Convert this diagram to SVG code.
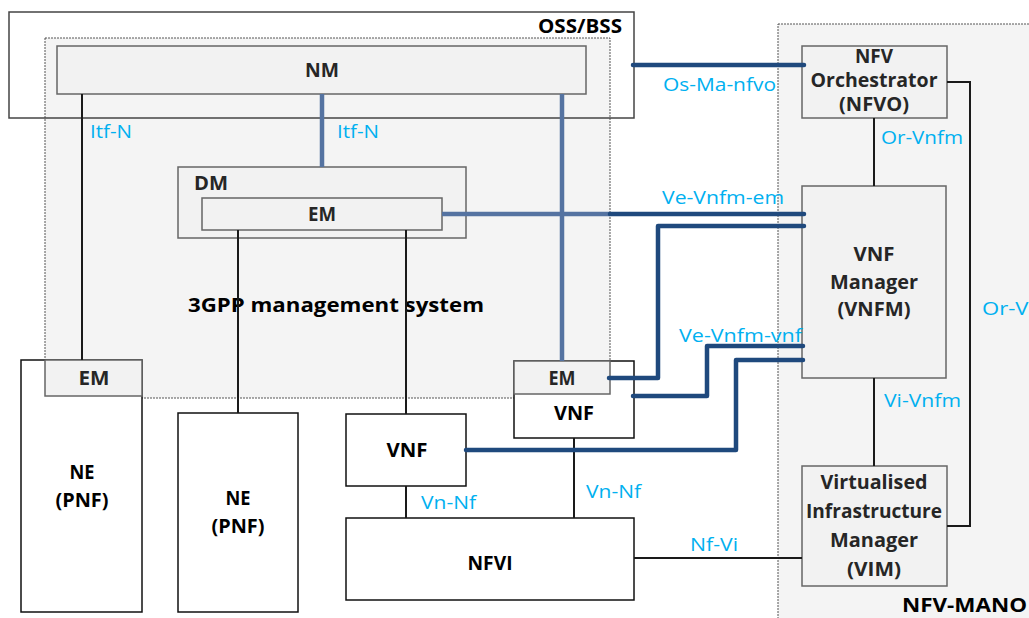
<svg xmlns="http://www.w3.org/2000/svg" width="1029" height="618" viewBox="0 0 1029 618">
<style>
.cont{fill:#f4f4f4;stroke:#555;stroke-width:1;stroke-dasharray:2 1}
.gbox{fill:#f2f2f2;stroke:#666;stroke-width:1.5}
.wbox{fill:#fff;stroke:#111;stroke-width:1.5}
.thin{fill:none;stroke:#1a1a1a;stroke-width:2}
.thk{fill:none;stroke:#1f497d;stroke-width:4.5;stroke-linecap:round;stroke-linejoin:round}
.thkl{fill:none;stroke:#5573a1;stroke-width:4.5;stroke-linecap:butt}
.b{font-family:"Open Sans","Liberation Sans",sans-serif;font-weight:bold;font-size:19px;fill:#262626}
.bk{fill:#000}
.c{font-family:"Open Sans","Liberation Sans",sans-serif;font-size:19px;fill:#00b0f0}
.m{text-anchor:middle}
</style>
<g id="containers">
<rect id="nfv-mano" class="cont" x="778" y="24" width="260" height="600"/>
<rect id="mgmt-system" class="cont" x="45" y="38" width="565" height="360"/>
<rect id="oss-bss" x="9" y="12" width="625" height="106" fill="none" stroke="#444" stroke-width="1.5"/>
<text class="b bk" x="538" y="33" textLength="84" lengthAdjust="spacingAndGlyphs" font-size="18">OSS/BSS</text>
<text class="b bk" x="188" y="312" textLength="296" lengthAdjust="spacingAndGlyphs" font-size="21">3GPP management system</text>
<text class="b bk" x="902" y="612" textLength="125" lengthAdjust="spacingAndGlyphs" font-size="21">NFV-MANO</text>
</g>
<g id="nm">
<rect class="gbox" x="57" y="46" width="529" height="48"/>
<text class="b m" x="322" y="77" textLength="34" lengthAdjust="spacingAndGlyphs">NM</text>
</g>
<g id="dm">
<rect class="gbox" x="178" y="167" width="288" height="71"/>
<text class="b" x="194" y="190" textLength="34" lengthAdjust="spacingAndGlyphs" font-size="18">DM</text>
</g>
<g id="dm-em">
<rect class="gbox" x="202" y="198" width="240" height="32"/>
<text class="b m" x="322" y="221" textLength="28" lengthAdjust="spacingAndGlyphs" font-size="17">EM</text>
</g>
<g id="ne1">
<rect class="wbox" x="21" y="360" width="121" height="252"/>
<text class="b bk m" x="82" y="479" textLength="25" lengthAdjust="spacingAndGlyphs">NE</text>
<text class="b bk m" x="82" y="507" textLength="53" lengthAdjust="spacingAndGlyphs">(PNF)</text>
</g>
<g id="ne1-em">
<rect class="gbox" x="45" y="360" width="97" height="36"/>
<text class="b m" x="94" y="385" textLength="31" lengthAdjust="spacingAndGlyphs" font-size="17">EM</text>
</g>
<g id="ne2">
<rect class="wbox" x="178" y="413" width="120" height="199"/>
<text class="b bk m" x="238" y="505" textLength="25" lengthAdjust="spacingAndGlyphs">NE</text>
<text class="b bk m" x="238" y="533" textLength="53" lengthAdjust="spacingAndGlyphs">(PNF)</text>
</g>
<g id="vnf1">
<rect class="wbox" x="346" y="414" width="120" height="72"/>
<text class="b bk m" x="407" y="457" textLength="41" lengthAdjust="spacingAndGlyphs">VNF</text>
</g>
<g id="vnf2">
<rect class="wbox" x="514" y="361" width="120" height="77"/>
<text class="b bk m" x="574" y="420" textLength="40" lengthAdjust="spacingAndGlyphs">VNF</text>
</g>
<g id="vnf2-em">
<rect class="gbox" x="514" y="361" width="96" height="33"/>
<text class="b m" x="562" y="385" textLength="27" lengthAdjust="spacingAndGlyphs" font-size="17">EM</text>
</g>
<g id="nfvi">
<rect class="wbox" x="346" y="518" width="288" height="82"/>
<text class="b bk m" x="490" y="570" textLength="45" lengthAdjust="spacingAndGlyphs">NFVI</text>
</g>
<g id="nfvo">
<rect class="gbox" x="802" y="46" width="145" height="72"/>
<text class="b m" x="874" y="63" textLength="38" lengthAdjust="spacingAndGlyphs" font-size="18">NFV</text>
<text class="b m" x="874" y="87" textLength="127" lengthAdjust="spacingAndGlyphs" font-size="18">Orchestrator</text>
<text class="b m" x="874" y="111" textLength="70" lengthAdjust="spacingAndGlyphs" font-size="18">(NFVO)</text>
</g>
<g id="vnfm">
<rect class="gbox" x="802" y="186" width="144" height="192"/>
<text class="b m" x="874" y="261" textLength="41" lengthAdjust="spacingAndGlyphs">VNF</text>
<text class="b m" x="874" y="289" textLength="88" lengthAdjust="spacingAndGlyphs">Manager</text>
<text class="b m" x="874" y="316" textLength="73" lengthAdjust="spacingAndGlyphs">(VNFM)</text>
</g>
<g id="vim">
<rect class="gbox" x="802" y="466" width="145" height="120"/>
<text class="b m" x="874" y="489" textLength="107" lengthAdjust="spacingAndGlyphs" font-size="18">Virtualised</text>
<text class="b m" x="874" y="518" textLength="136" lengthAdjust="spacingAndGlyphs" font-size="18">Infrastructure</text>
<text class="b m" x="874" y="547" textLength="88" lengthAdjust="spacingAndGlyphs" font-size="18">Manager</text>
<text class="b m" x="874" y="576" textLength="54" lengthAdjust="spacingAndGlyphs" font-size="18">(VIM)</text>
</g>
<g id="connectors">
<path class="thin" d="M82 94V360M238 230V413M406 230V414M406 486V518M574 438V518M874 118V186M874 378V466M947 82H970V526H947M634 558H802"/>
<path class="thkl" d="M322 94V167M562 94V361M442 214H610"/>
<path class="thk" d="M610 214H804"/>
<path class="thk" d="M633 65H804"/>
<path class="thk" d="M609 378H658V226H804"/>
<path class="thk" d="M633 396H707V346H803"/>
<path class="thk" d="M466 450H736V360H803"/>
<text class="c" x="90" y="138" textLength="42" lengthAdjust="spacingAndGlyphs">Itf-N</text>
<text class="c" x="337" y="138" textLength="42" lengthAdjust="spacingAndGlyphs">Itf-N</text>
<text class="c" x="663" y="91" textLength="113" lengthAdjust="spacingAndGlyphs">Os-Ma-nfvo</text>
<text class="c" x="881" y="144" textLength="82" lengthAdjust="spacingAndGlyphs">Or-Vnfm</text>
<text class="c" x="662" y="204" textLength="122" lengthAdjust="spacingAndGlyphs">Ve-Vnfm-em</text>
<text class="c" x="679" y="342" textLength="123" lengthAdjust="spacingAndGlyphs">Ve-Vnfm-vnf</text>
<text class="c" x="982" y="315" textLength="52" lengthAdjust="spacingAndGlyphs">Or-Vi</text>
<text class="c" x="884" y="407" textLength="77" lengthAdjust="spacingAndGlyphs">Vi-Vnfm</text>
<text class="c" x="421" y="509" textLength="55" lengthAdjust="spacingAndGlyphs">Vn-Nf</text>
<text class="c" x="586" y="498" textLength="55" lengthAdjust="spacingAndGlyphs">Vn-Nf</text>
<text class="c" x="690" y="551" textLength="48" lengthAdjust="spacingAndGlyphs">Nf-Vi</text>
</g>
</svg>
